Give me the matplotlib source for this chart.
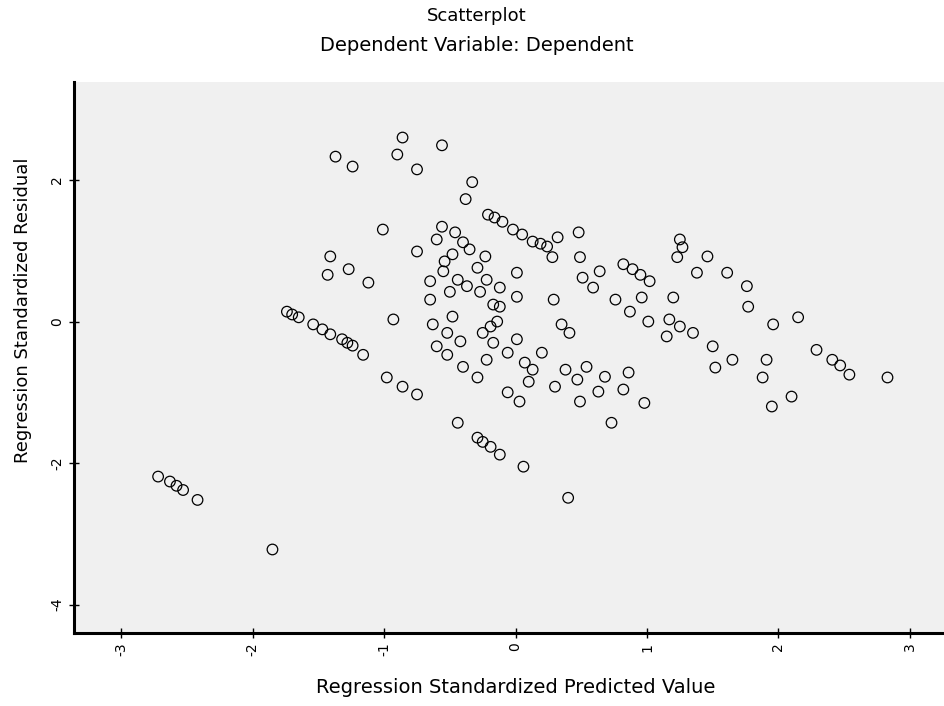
import numpy as np
import matplotlib
matplotlib.use("Agg")
import matplotlib.pyplot as plt

# Regression Standardized Predicted Value (x) / Standardized Residual (y)
pred = [-1.37, -1.24, -0.86, -0.90, -0.56, -0.75, -0.33, -0.38,
        -0.21, -0.10, -0.02, 0.13, 0.24, 0.32, 0.48, 0.28, 0.49, 0.64, 0.51, 0.59,
        0.82, 0.95, 1.02, 0.29, 0.76, 0.87, 0.96, 1.01, 0.35, 1.20, 1.17, 1.15,
        -0.56, -0.46, -0.60, -0.40, -0.48, -0.75, -0.23, -0.29, 0.01, -0.55, -0.65,
        -0.44, -0.22, -0.12, -0.27, -0.65, -0.50, -0.37, 0.01, -0.12,
        -0.48, -0.63, -0.52, -0.42, -0.60, -0.52, -0.40, -0.29, -0.25, -0.14, -0.17,
        -0.22, 0.01, -0.06, 0.07, 0.13, 0.10, 0.20, -0.06, 0.03, -0.17, -0.19,
        0.41, 0.38, 0.30, 0.54, 0.47, 0.63, 0.49, 0.68, 0.86, 0.82, 0.98, 0.73,
        1.25, 1.35,
        1.25, 1.23, 1.46, 1.38, 1.61, 1.76, 1.77, 1.96, 2.15, 2.29, 2.41, 2.54, 2.83,
        1.91, 1.88, 1.95, 2.10, 1.50, 1.65, 1.52, 1.27,
        -1.01, -1.41, -1.43, -1.27, -1.12, -0.93,
        -1.74, -1.65, -1.54, -1.41, -1.32, -1.24, -1.16, -0.98, -0.86, -0.75,
        -2.72, -2.63, -2.53, -2.42, -1.85,
        -0.44, -0.29, -0.19, -0.12, 0.06, 0.40,
        -0.16, 0.05, 0.19, -1.70, -1.47, -1.28, 0.89, 2.47,
        -0.35, -0.54, -2.58, -0.25]

resid = [2.33, 2.19, 2.60, 2.36, 2.49, 2.15, 1.97, 1.73,
         1.51, 1.41, 1.30, 1.13, 1.06, 1.19, 1.26, 0.91, 0.91, 0.71, 0.62, 0.48,
         0.81, 0.66, 0.57, 0.31, 0.31, 0.14, 0.34, 0.00, -0.04, 0.34, 0.03, -0.21,
         1.34, 1.26, 1.16, 1.12, 0.95, 0.99, 0.92, 0.76, 0.69, 0.71, 0.57,
         0.59, 0.59, 0.48, 0.42, 0.31, 0.42, 0.50, 0.35, 0.21,
         0.07, -0.04, -0.16, -0.28, -0.35, -0.47, -0.64, -0.79, -0.16, 0.00, -0.30,
         -0.54, -0.25, -0.44, -0.58, -0.68, -0.85, -0.44, -1.00, -1.13, 0.24, -0.07,
         -0.16, -0.68, -0.92, -0.64, -0.82, -0.99, -1.13, -0.78, -0.72, -0.96, -1.15, -1.43,
         -0.07, -0.16,
         1.16, 0.91, 0.92, 0.69, 0.69, 0.50, 0.21, -0.04, 0.06, -0.40, -0.54, -0.75, -0.79,
         -0.54, -0.79, -1.20, -1.06, -0.35, -0.54, -0.65, 1.05,
         1.30, 0.92, 0.66, 0.74, 0.55, 0.03,
         0.14, 0.06, -0.04, -0.18, -0.25, -0.34, -0.47, -0.79, -0.92, -1.03,
         -2.19, -2.26, -2.38, -2.52, -3.22,
         -1.43, -1.64, -1.77, -1.88, -2.05, -2.49,
         1.47, 1.23, 1.10, 0.10, -0.11, -0.30, 0.74, -0.62,
         1.02, 0.85, -2.32, -1.70]

xticks = [-3, -2, -1, 0, 1, 2, 3]
yticks = [2, 0, -2, -4]

fig = plt.figure(figsize=(9.44, 7.06), dpi=100)
ax = fig.add_axes([0.0784, 0.1034, 0.9216, 0.7800])
ax.set_facecolor("#f0f0f0")

ax.scatter(pred, resid, s=58, facecolors="none", edgecolors="black", linewidths=0.9)

ax.set_xlim(-3.36, 3.26)
ax.set_ylim(-4.40, 3.38)
ax.set_xticks(xticks)
ax.set_yticks(yticks)
ax.set_xticklabels([str(t) for t in xticks], rotation=90, fontsize=10)
ax.set_yticklabels([str(t) for t in yticks], rotation=90, fontsize=10, va="center")
ax.tick_params(direction="inout", length=7, width=1)

ax.spines["top"].set_visible(False)
ax.spines["right"].set_visible(False)
ax.spines["left"].set_linewidth(2.2)
ax.spines["bottom"].set_linewidth(2.2)

fig.text(0.505, 0.978, "Scatterplot", ha="center", va="center", fontsize=13)
fig.text(0.505, 0.936, "Dependent Variable: Dependent", ha="center", va="center", fontsize=14)
fig.text(0.546, 0.026, "Regression Standardized Predicted Value", ha="center", va="center", fontsize=14)
fig.text(0.024, 0.56, "Regression Standardized Residual", ha="center", va="center",
         rotation=90, fontsize=13)

fig.savefig("out.png", dpi=100)
